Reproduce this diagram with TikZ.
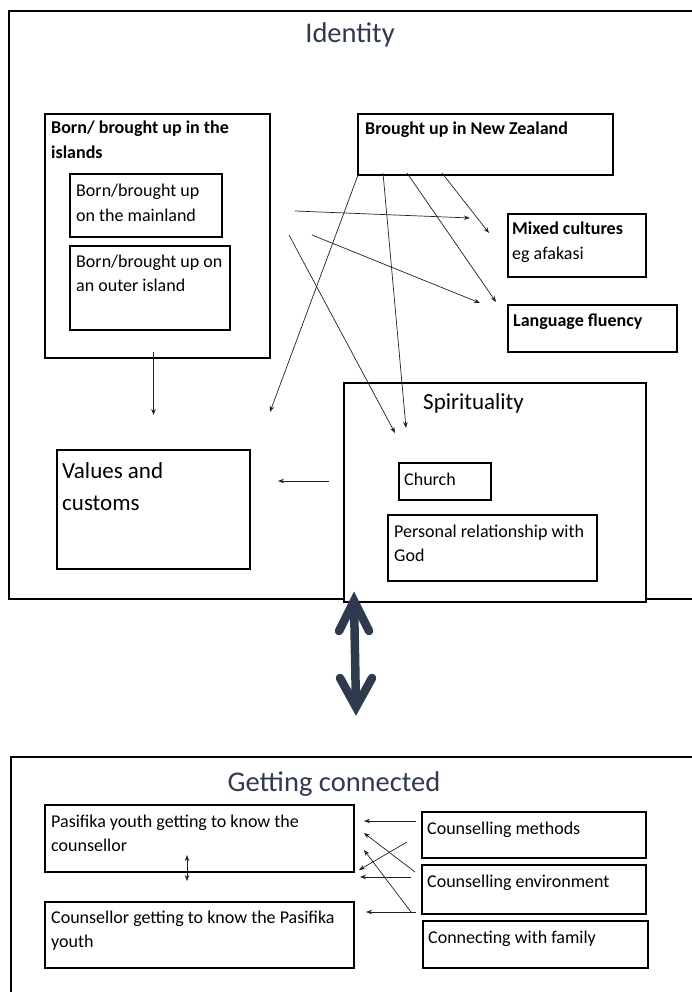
\documentclass[tikz,border=0pt]{standalone}
\usepackage{fontspec}
\setmainfont{Carlito}
\usetikzlibrary{arrows.meta}
\definecolor{titlecol}{HTML}{2E3B4E}
\definecolor{bigcol}{HTML}{2E3A4D}
\definecolor{arrcol}{HTML}{222222}
\tikzset{
  box/.style={draw=black, line width=1.6pt, fill=white, inner sep=0pt, anchor=north west},
  txt/.style={anchor=base west, inner sep=0pt, font=\fontsize{18}{22}\selectfont},
  btxt/.style={txt, font=\fontsize{18}{22}\selectfont\bfseries},
  ltxt/.style={txt, font=\fontsize{23}{28}\selectfont},
  ttl/.style={anchor=base, inner sep=0pt, text=titlecol, font=\fontsize{28.5}{34}\selectfont},
  arr/.style={draw=arrcol, line width=0.7pt, -{Stealth[length=6pt,width=4.5pt]}},
  darr/.style={draw=arrcol, line width=0.7pt, {Stealth[length=6pt,width=4.5pt]}-{Stealth[length=6pt,width=4.5pt]}},
  bigshaft/.style={draw=bigcol, line width=8.5pt},
  bigchev/.style={draw=bigcol, line width=8.5pt, line cap=round, line join=miter}
}
\begin{document}
\begin{tikzpicture}[x=1pt,y=-1pt]
\useasboundingbox (0,0) rectangle (692,992);
\clip (0,0) rectangle (692,992);
\fill[white] (0,0) rectangle (692,992);

% ---------- Identity ----------
\node[box, minimum width=712pt, minimum height=588pt] (idbox) at (8,10) {};
\node[ttl] (idtitle) at (350,43) {Identity};

\node[box, minimum width=225pt, minimum height=244pt] (islands) at (44,113) {};
\node[btxt] (islandsA) at (51,134) {Born/ brought up in the};
\node[btxt] (islandsB) at (51,159) {islands};

\node[box, minimum width=152pt, minimum height=63pt] (mainland) at (69,173) {};
\node[txt] (mainlandA) at (76,197) {Born/brought up};
\node[txt] (mainlandB) at (76,222) {on the mainland};

\node[box, minimum width=160pt, minimum height=84pt] (outer) at (69,245) {};
\node[txt] (outerA) at (76,267) {Born/brought up on};
\node[txt] (outerB) at (76,291) {an outer island};

\node[box, minimum width=255pt, minimum height=61pt] (nz) at (357,113) {};
\node[btxt] (nzA) at (365,135) {Brought up in New Zealand};

\node[box, minimum width=138pt, minimum height=63pt] (mixed) at (507,213) {};
\node[btxt] (mixedA) at (512,235) {Mixed cultures};
\node[txt] (mixedB) at (512,259) {eg afakasi};

\node[box, minimum width=169pt, minimum height=47pt] (lang) at (507,304) {};
\node[btxt] (langA) at (513,326) {Language fluency};

\node[box, minimum width=193pt, minimum height=119pt] (values) at (56,449) {};
\node[ltxt] (valuesA) at (62,478) {Values and};
\node[ltxt] (valuesB) at (62,510) {customs};

\node[box, minimum width=302pt, minimum height=219pt] (spirit) at (343,382) {};
\node[ltxt] (spiritA) at (423,409) {Spirituality};

\node[box, minimum width=92pt, minimum height=37pt] (church) at (398,462) {};
\node[txt] (churchA) at (404,485) {Church};

\node[box, minimum width=209pt, minimum height=66pt] (personal) at (387,514) {};
\node[txt] (personalA) at (394,537) {Personal relationship with};
\node[txt] (personalB) at (394,561) {God};

% connector end points
\coordinate (a1s) at (153.5,352); \coordinate (a1e) at (153.5,415);
\coordinate (a2s) at (358,175);   \coordinate (a2e) at (270,412);
\coordinate (a3s) at (383,173);   \coordinate (a3e) at (406,428);
\coordinate (a4s) at (407,173);   \coordinate (a4e) at (496,302);
\coordinate (a5s) at (442,173);   \coordinate (a5e) at (489,233);
\coordinate (a6s) at (295,211);   \coordinate (a6e) at (470,218);
\coordinate (a7s) at (312,235);   \coordinate (a7e) at (480,303);
\coordinate (a8s) at (289,235);   \coordinate (a8e) at (395,433);
\coordinate (a9s) at (329,481);   \coordinate (a9e) at (278,481);

\draw[arr] (a1s) -- (a1e);
\draw[arr] (a2s) -- (a2e);
\draw[arr] (a3s) -- (a3e);
\draw[arr] (a4s) -- (a4e);
\draw[arr] (a5s) -- (a5e);
\draw[arr] (a6s) -- (a6e);
\draw[arr] (a7s) -- (a7e);
\draw[arr] (a8s) -- (a8e);
\draw[arr] (a9s) -- (a9e);

% ---------- big double arrow ----------
\coordinate (bt) at (354,601); \coordinate (bb) at (356,707);
\coordinate (btl) at (339,631); \coordinate (btr) at (369,631);
\coordinate (bbl) at (340,678); \coordinate (bbr) at (372,678);
\draw[bigshaft] (bt) -- (bb);
\draw[bigchev] (btl) -- (bt) -- (btr);
\draw[bigchev] (bbl) -- (bb) -- (bbr);

% ---------- Getting connected ----------
\node[box, minimum width=710pt, minimum height=260pt] (gcbox) at (10,756) {};
\node[ttl] (gctitle) at (334,791) {Getting connected};

\node[box, minimum width=309pt, minimum height=67pt] (pasifika) at (44,804) {};
\node[txt] (pasifikaA) at (51,827) {Pasifika youth getting to know the};
\node[txt] (pasifikaB) at (51,851) {counsellor};

\node[box, minimum width=309pt, minimum height=66pt] (counsellor) at (44,901) {};
\node[txt] (counsellorA) at (51,923) {Counsellor getting to know the Pasifika};
\node[txt] (counsellorB) at (51,947) {youth};

\node[box, minimum width=224pt, minimum height=46pt] (methods) at (421,811) {};
\node[txt] (methodsA) at (427,834) {Counselling methods};

\node[box, minimum width=224pt, minimum height=49pt] (env) at (421,864) {};
\node[txt] (envA) at (427,887) {Counselling environment};

\node[box, minimum width=225pt, minimum height=47pt] (family) at (422,920) {};
\node[txt] (familyA) at (428,943) {Connecting with family};

\coordinate (b1s) at (416,821); \coordinate (b1e) at (364,821);
\coordinate (b2s) at (407,842); \coordinate (b2e) at (359,870);
\coordinate (b3s) at (415,872); \coordinate (b3e) at (364,833);
\coordinate (b4s) at (411,877); \coordinate (b4e) at (360,877);
\coordinate (b5s) at (411,912); \coordinate (b5e) at (364,850);
\coordinate (b6s) at (416,912); \coordinate (b6e) at (366,912);
\coordinate (b7s) at (187,855); \coordinate (b7e) at (187,881);

\draw[arr] (b1s) -- (b1e);
\draw[arr] (b2s) -- (b2e);
\draw[arr] (b3s) -- (b3e);
\draw[arr] (b4s) -- (b4e);
\draw[arr] (b5s) -- (b5e);
\draw[arr] (b6s) -- (b6e);
\draw[darr] (b7s) -- (b7e);
\end{tikzpicture}
\end{document}
